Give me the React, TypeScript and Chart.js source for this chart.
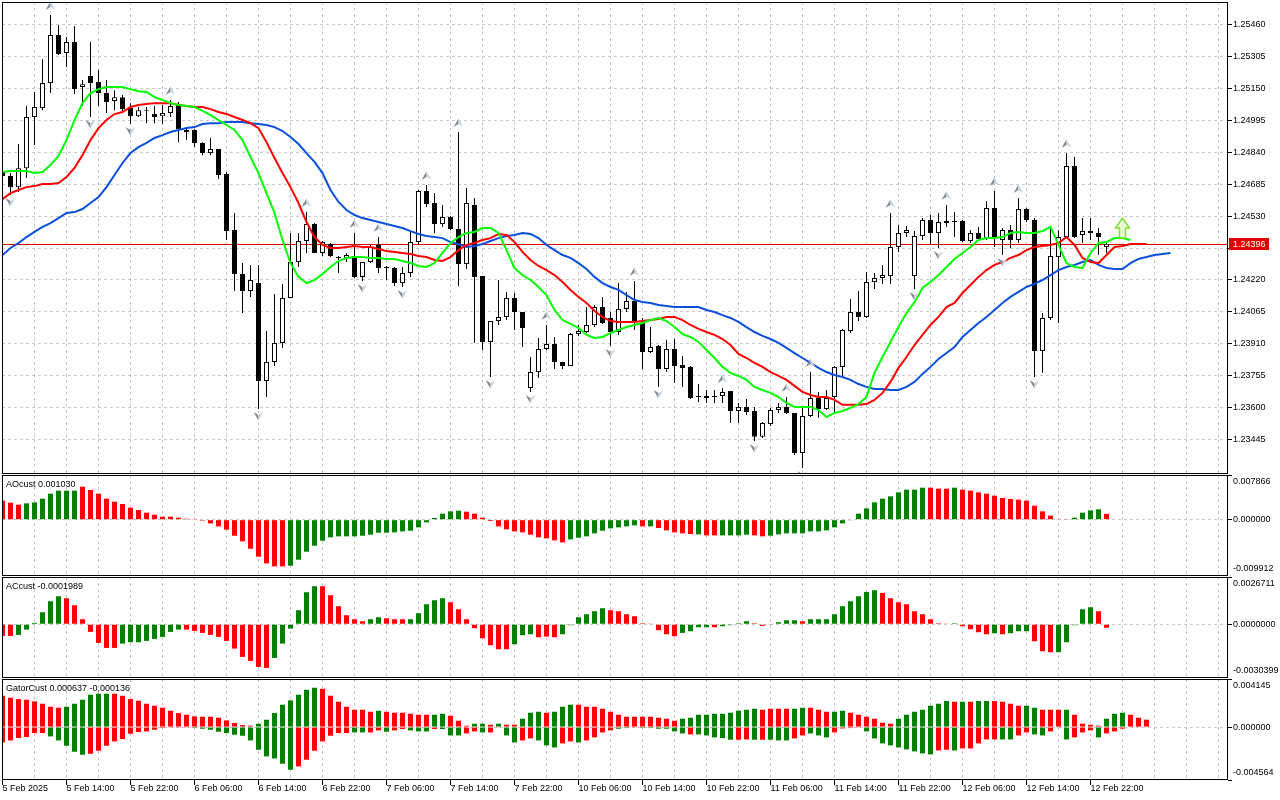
import { useEffect, useRef } from "react";
import { Chart, registerables } from "chart.js";

Chart.register(...registerables);

// ---------------- data ----------------
const xLabels = [
  "5 Feb 2025", "5 Feb 14:00", "5 Feb 22:00", "6 Feb 06:00", "6 Feb 14:00", "6 Feb 22:00",
  "7 Feb 06:00", "7 Feb 14:00", "7 Feb 22:00", "10 Feb 06:00", "10 Feb 14:00", "10 Feb 22:00",
  "11 Feb 06:00", "11 Feb 14:00", "11 Feb 22:00", "12 Feb 06:00", "12 Feb 14:00", "12 Feb 22:00",
];

const priceTicks = [1.23445, 1.236, 1.23755, 1.2391, 1.24065, 1.2422, 1.24375, 1.2453, 1.24685, 1.2484, 1.24995, 1.2515, 1.25305, 1.2546];
const priceRange = [1.2328, 1.25567];

const open = [
  1.24743, 1.24724, 1.24670, 1.24762, 1.25010, 1.25053, 1.25174, 1.25407, 1.25320, 1.25373,
  1.25155, 1.25208, 1.25179, 1.25126, 1.25087, 1.25106, 1.25053, 1.25014, 1.25043, 1.25024,
  1.25014, 1.25029, 1.25068, 1.24937, 1.24947, 1.24884, 1.24835, 1.24855, 1.24733, 1.24462,
  1.24249, 1.24167, 1.24205, 1.23731, 1.23823, 1.23915, 1.24133, 1.24307, 1.24409, 1.24491,
  1.24351, 1.24394, 1.24331, 1.24327, 1.24336, 1.24235, 1.24307, 1.24390, 1.24283, 1.24278,
  1.24205, 1.24254, 1.24404, 1.24651, 1.24593, 1.24491, 1.24525, 1.24467, 1.24297, 1.24583,
  1.24239, 1.23920, 1.24021, 1.24041, 1.24133, 1.24065, 1.23697, 1.23774, 1.23886, 1.23910,
  1.23823, 1.23803, 1.23958, 1.23968, 1.24002, 1.24089, 1.24036, 1.23968, 1.24080, 1.24118,
  1.24012, 1.23871, 1.23900, 1.23789, 1.23886, 1.23808, 1.23799, 1.23658, 1.23658, 1.23653,
  1.23658, 1.23682, 1.23585, 1.23605, 1.23585, 1.23460, 1.23522, 1.23590, 1.23605, 1.23576,
  1.23382, 1.23561, 1.23648, 1.23595, 1.23653, 1.23799, 1.23973, 1.24065, 1.24041, 1.24210,
  1.24230, 1.24239, 1.24380, 1.24448, 1.24239, 1.24433, 1.24511, 1.24448, 1.24506, 1.24501,
  1.24506, 1.24409, 1.24448, 1.24423, 1.24569, 1.24414, 1.24462, 1.24414, 1.24564, 1.24511,
  1.23876, 1.24036, 1.24331, 1.24428, 1.24772, 1.24438, 1.24457, 1.24448, 1.24380,
];
const high = [
  1.24753, 1.24738, 1.24879, 1.25063, 1.25131, 1.25290, 1.25504, 1.25455, 1.25397, 1.25450,
  1.25189, 1.25373, 1.25237, 1.25189, 1.25140, 1.25116, 1.25077, 1.25058, 1.25058, 1.25063,
  1.25068, 1.25092, 1.25082, 1.24956, 1.24951, 1.24888, 1.24908, 1.24855, 1.24743, 1.24545,
  1.24302, 1.24293, 1.24293, 1.23973, 1.24152, 1.24201, 1.24448, 1.24448, 1.24549, 1.24496,
  1.24409, 1.24399, 1.24336, 1.24351, 1.24448, 1.24307, 1.24390, 1.24428, 1.24288, 1.24283,
  1.24283, 1.24452, 1.24656, 1.24680, 1.24641, 1.24583, 1.24530, 1.24937, 1.24666, 1.24617,
  1.24239, 1.24021, 1.24220, 1.24162, 1.24157, 1.24065, 1.23847, 1.23939, 1.24002, 1.23944,
  1.23823, 1.23963, 1.24002, 1.24089, 1.24099, 1.24138, 1.24065, 1.24205, 1.24162, 1.24215,
  1.24036, 1.23992, 1.23905, 1.23929, 1.23934, 1.23852, 1.23803, 1.23716, 1.23687, 1.23687,
  1.23697, 1.23682, 1.23624, 1.23644, 1.23605, 1.23532, 1.23600, 1.23624, 1.23653, 1.23576,
  1.23600, 1.23774, 1.23677, 1.23687, 1.23803, 1.23983, 1.24128, 1.24167, 1.24259, 1.24254,
  1.24293, 1.24545, 1.24486, 1.24482, 1.24457, 1.24520, 1.24535, 1.24545, 1.24583, 1.24549,
  1.24511, 1.24462, 1.24477, 1.24603, 1.24651, 1.24472, 1.24486, 1.24617, 1.24569, 1.24520,
  1.24060, 1.24477, 1.24462, 1.24835, 1.24816, 1.24520, 1.24520, 1.24472, 1.24399,
];
const low = [
  1.24714, 1.24632, 1.24646, 1.24714, 1.24874, 1.25043, 1.25126, 1.25310, 1.25252, 1.25121,
  1.25063, 1.25010, 1.25063, 1.25029, 1.25043, 1.25029, 1.24976, 1.25010, 1.24980, 1.24980,
  1.24976, 1.25010, 1.24888, 1.24898, 1.24864, 1.24825, 1.24825, 1.24709, 1.24414, 1.24167,
  1.24060, 1.24138, 1.23595, 1.23653, 1.23803, 1.23891, 1.24133, 1.24283, 1.24351, 1.24351,
  1.24336, 1.24331, 1.24254, 1.24307, 1.24230, 1.24215, 1.24302, 1.24254, 1.24220, 1.24191,
  1.24186, 1.24235, 1.24390, 1.24574, 1.24448, 1.24477, 1.24462, 1.24191, 1.24273, 1.23915,
  1.23881, 1.23750, 1.24002, 1.24026, 1.23978, 1.23895, 1.23677, 1.23745, 1.23881, 1.23789,
  1.23789, 1.23803, 1.23949, 1.23963, 1.23992, 1.24007, 1.23900, 1.23954, 1.24065, 1.23978,
  1.23789, 1.23866, 1.23702, 1.23774, 1.23721, 1.23702, 1.23643, 1.23629, 1.23624, 1.23624,
  1.23624, 1.23527, 1.23527, 1.23566, 1.23440, 1.23455, 1.23513, 1.23576, 1.23571, 1.23372,
  1.23309, 1.23556, 1.23552, 1.23590, 1.23581, 1.23750, 1.23963, 1.24021, 1.24036, 1.24176,
  1.24201, 1.24201, 1.24356, 1.24428, 1.24176, 1.24414, 1.24394, 1.24375, 1.24477, 1.24428,
  1.24404, 1.24399, 1.24414, 1.24414, 1.24380, 1.24341, 1.24375, 1.24399, 1.24501, 1.23750,
  1.23770, 1.24026, 1.24012, 1.24423, 1.24423, 1.24399, 1.24414, 1.24341, 1.24351,
];
const close = [
  1.24724, 1.24670, 1.24762, 1.25010, 1.25058, 1.25174, 1.25407, 1.25315, 1.25373, 1.25145,
  1.25169, 1.25174, 1.25126, 1.25082, 1.25106, 1.25048, 1.25014, 1.25043, 1.25039, 1.25010,
  1.25029, 1.25063, 1.24951, 1.24947, 1.24884, 1.24835, 1.24855, 1.24729, 1.24457, 1.24249,
  1.24167, 1.24220, 1.23731, 1.23823, 1.23915, 1.24133, 1.24307, 1.24409, 1.24491, 1.24351,
  1.24404, 1.24336, 1.24327, 1.24341, 1.24235, 1.24307, 1.24380, 1.24278, 1.24278, 1.24205,
  1.24254, 1.24404, 1.24651, 1.24588, 1.24491, 1.24525, 1.24467, 1.24297, 1.24593, 1.24235,
  1.23920, 1.24021, 1.24041, 1.24133, 1.24065, 1.23987, 1.23774, 1.23886, 1.23910, 1.23823,
  1.23803, 1.23958, 1.23973, 1.24002, 1.24089, 1.24012, 1.23968, 1.24080, 1.24118, 1.24017,
  1.23871, 1.23895, 1.23789, 1.23886, 1.23803, 1.23794, 1.23648, 1.23653, 1.23648, 1.23658,
  1.23677, 1.23585, 1.23605, 1.23581, 1.23460, 1.23527, 1.23590, 1.23605, 1.23576, 1.23382,
  1.23561, 1.23648, 1.23595, 1.23648, 1.23799, 1.23978, 1.24065, 1.24041, 1.24210, 1.24230,
  1.24244, 1.24380, 1.24448, 1.24462, 1.24433, 1.24511, 1.24448, 1.24501, 1.24496, 1.24506,
  1.24409, 1.24448, 1.24419, 1.24569, 1.24423, 1.24462, 1.24414, 1.24564, 1.24511, 1.23876,
  1.24036, 1.24336, 1.24428, 1.24772, 1.24428, 1.24457, 1.24448, 1.24428, 1.24396,
];

// Alligator lines (already shifted forward, one value per bar slot)
const lips = [
  1.24743, 1.24748, 1.24748, 1.24748, 1.24738, 1.24743, 1.24777, 1.24821, 1.24898, 1.24995,
  1.25077, 1.25126, 1.25145, 1.25155, 1.25155, 1.25155, 1.25145, 1.25135, 1.25131, 1.25106,
  1.25092, 1.25077, 1.25068, 1.25063, 1.25058, 1.25039, 1.25019, 1.24995, 1.24971, 1.24947,
  1.24898, 1.24816, 1.24738, 1.24641, 1.24545, 1.24414, 1.24302, 1.24235, 1.24205, 1.24220,
  1.24249, 1.24283, 1.24312, 1.24327, 1.24331, 1.24331, 1.24327, 1.24327, 1.24322, 1.24322,
  1.24312, 1.24302, 1.24288, 1.24283, 1.24302, 1.24351, 1.24399, 1.24428, 1.24448, 1.24453,
  1.24472, 1.24472, 1.24448, 1.24365, 1.24278, 1.24244, 1.24220, 1.24186, 1.24147, 1.24075,
  1.24026, 1.24007, 1.23988, 1.23954, 1.23939, 1.23944, 1.23963, 1.23978, 1.23992, 1.24002,
  1.24012, 1.24026, 1.24036, 1.24021, 1.23992, 1.23958, 1.23944, 1.23920, 1.23881, 1.23842,
  1.23799, 1.23770, 1.23755, 1.23736, 1.23702, 1.23687, 1.23673, 1.23653, 1.23624, 1.23605,
  1.23605, 1.23605, 1.23590, 1.23556, 1.23576, 1.23585, 1.23600, 1.23619, 1.23653, 1.23770,
  1.23847, 1.23920, 1.23992, 1.24060, 1.24113, 1.24181, 1.24210, 1.24244, 1.24283, 1.24322,
  1.24351, 1.24380, 1.24414, 1.24423, 1.24423, 1.24428, 1.24448, 1.24453, 1.24448, 1.24448,
  1.24457, 1.24477, 1.24390, 1.24302, 1.24283, 1.24278, 1.24351, 1.24399, 1.24404, 1.24423,
  1.24423, 1.24414,
];
const teeth = [
  1.24612, 1.24641, 1.24656, 1.24670, 1.24675, 1.24685, 1.24685, 1.24690, 1.24719, 1.24763,
  1.24825, 1.24898, 1.24956, 1.24995, 1.25024, 1.25034, 1.25058, 1.25068, 1.25073, 1.25077,
  1.25077, 1.25077, 1.25068, 1.25063, 1.25058, 1.25058, 1.25048, 1.25034, 1.25024, 1.25010,
  1.24995, 1.24980, 1.24956, 1.24888, 1.24811, 1.24738, 1.24670, 1.24593, 1.24501, 1.24428,
  1.24390, 1.24375, 1.24375, 1.24380, 1.24385, 1.24380, 1.24380, 1.24370, 1.24360, 1.24356,
  1.24351, 1.24346, 1.24336, 1.24331, 1.24317, 1.24312, 1.24331, 1.24365, 1.24390, 1.24399,
  1.24414, 1.24423, 1.24443, 1.24438, 1.24404, 1.24356, 1.24317, 1.24288, 1.24268, 1.24244,
  1.24210, 1.24172, 1.24138, 1.24109, 1.24070, 1.24041, 1.24021, 1.24017, 1.24017, 1.24017,
  1.24021, 1.24026, 1.24031, 1.24041, 1.24041, 1.24026, 1.24002, 1.23983, 1.23968, 1.23954,
  1.23934, 1.23905, 1.23862, 1.23842, 1.23818, 1.23799, 1.23774, 1.23755, 1.23736, 1.23707,
  1.23678, 1.23663, 1.23653, 1.23653, 1.23639, 1.23615, 1.23615, 1.23615, 1.23619, 1.23639,
  1.23673, 1.23726, 1.23794, 1.23847, 1.23905, 1.23954, 1.24002, 1.24041, 1.24089, 1.24109,
  1.24157, 1.24196, 1.24235, 1.24268, 1.24293, 1.24307, 1.24327, 1.24341, 1.24365, 1.24380,
  1.24385, 1.24390, 1.24399, 1.24428, 1.24390, 1.24327, 1.24307, 1.24302, 1.24341, 1.24380,
  1.24385, 1.24394, 1.24394, 1.24394,
];
const jaw = [
  1.24341, 1.24375, 1.24399, 1.24428, 1.24453, 1.24477, 1.24496, 1.24520, 1.24545, 1.24549,
  1.24564, 1.24593, 1.24622, 1.24670, 1.24729, 1.24787, 1.24835, 1.24864, 1.24884, 1.24908,
  1.24922, 1.24937, 1.24947, 1.24956, 1.24961, 1.24976, 1.24980, 1.24980, 1.24985, 1.24985,
  1.24985, 1.24980, 1.24976, 1.24971, 1.24961, 1.24942, 1.24913, 1.24879, 1.24835, 1.24792,
  1.24738, 1.24656, 1.24598, 1.24559, 1.24535, 1.24520, 1.24511, 1.24501, 1.24491, 1.24482,
  1.24472, 1.24457, 1.24443, 1.24433, 1.24428, 1.24423, 1.24404, 1.24394, 1.24380, 1.24385,
  1.24394, 1.24409, 1.24423, 1.24433, 1.24438, 1.24448, 1.24443, 1.24423, 1.24390, 1.24365,
  1.24341, 1.24327, 1.24302, 1.24273, 1.24235, 1.24205, 1.24186, 1.24172, 1.24147, 1.24123,
  1.24113, 1.24109, 1.24099, 1.24094, 1.24089, 1.24089, 1.24089, 1.24089, 1.24075, 1.24065,
  1.24050, 1.24036, 1.24017, 1.23992, 1.23968, 1.23949, 1.23934, 1.23915, 1.23891, 1.23866,
  1.23842, 1.23818, 1.23794, 1.23774, 1.23760, 1.23750, 1.23736, 1.23716, 1.23702, 1.23692,
  1.23692, 1.23687, 1.23687, 1.23702, 1.23726, 1.23765, 1.23799, 1.23837, 1.23866, 1.23895,
  1.23944, 1.23978, 1.24012, 1.24041, 1.24075, 1.24109, 1.24138, 1.24162, 1.24186, 1.24201,
  1.24220, 1.24244, 1.24268, 1.24283, 1.24293, 1.24307, 1.24317, 1.24293, 1.24278, 1.24273,
  1.24273, 1.24302, 1.24322, 1.24331, 1.24341, 1.24346, 1.24351,
];

const fractalUp = [6, 21, 38, 44, 47, 53, 57, 68, 79, 90, 98, 101, 111, 118, 124, 127, 133];
const fractalDown = [1, 11, 16, 32, 45, 50, 61, 66, 76, 82, 94, 100, 114, 117, 125, 129];
const signalBars = [140];
const signalPrices = [1.24423];

const ao = [
  0.003346, 0.002994, 0.002642, 0.002876, 0.003052, 0.003698, 0.004579, 0.005107, 0.005107, 0.005107,
  0.005811, 0.005224, 0.004579, 0.003698, 0.003170, 0.002759, 0.002113, 0.001702, 0.001233, 0.000881,
  0.000528, 0.000528, 0.000352, 0.000176, 0.000059, -0.000176, -0.000646, -0.001174, -0.001761, -0.002818,
  -0.003816, -0.005107, -0.006516, -0.007690, -0.008218, -0.008218, -0.008101, -0.007044, -0.005635, -0.004579,
  -0.003698, -0.003111, -0.002935, -0.002935, -0.002935, -0.002818, -0.002642, -0.002289, -0.002289, -0.002231,
  -0.002055, -0.001937, -0.001350, -0.000470, 0.000294, 0.001057, 0.001468, 0.001585, 0.001409, 0.001057,
  0.000352, -0.000235, -0.001174, -0.001702, -0.002055, -0.002231, -0.002642, -0.003111, -0.003287, -0.003639,
  -0.003992, -0.003463, -0.003170, -0.002935, -0.002407, -0.001937, -0.001526, -0.001350, -0.001174, -0.000998,
  -0.001174, -0.001174, -0.001468, -0.001878, -0.002231, -0.002407, -0.002524, -0.002583, -0.002759, -0.002759,
  -0.002759, -0.002759, -0.002759, -0.002642, -0.002759, -0.002935, -0.002818, -0.002583, -0.002407, -0.002407,
  -0.002407, -0.002055, -0.002055, -0.001878, -0.001350, -0.000646, -0.000059, 0.001057, 0.001996, 0.003052,
  0.003698, 0.004109, 0.004813, 0.005283, 0.005283, 0.005635, 0.005635, 0.005459, 0.005459, 0.005635,
  0.005283, 0.005107, 0.004813, 0.004579, 0.004226, 0.003816, 0.003639, 0.003522, 0.003346, 0.002465,
  0.001468, 0.000704, 0.000117, 0.000059, 0.000352, 0.001233, 0.001644, 0.001820, 0.001030,
];
const aoColorRuns = [[3, "R"], [7, "G"], [26, "R"], [22, "G"], [13, "R"], [9, "G"], [1, "R"], [1, "G"], [5, "R"], [1, "G"], [2, "R"], [4, "G"], [2, "R"], [20, "G"], [3, "R"], [1, "G"], [14, "R"], [4, "G"], [1, "R"]];
const aoAxis = [-0.009912, 0, 0.007866];
const aoAxisLabels = ["-0.009912", "0.000000", "0.007866"];

const ac = [
  -0.000660, -0.000660, -0.000603, -0.000302, 0.000075, 0.000679, 0.001301, 0.001583, 0.001470, 0.001074,
  0.000283, -0.000434, -0.001056, -0.001338, -0.001338, -0.001093, -0.001018, -0.001018, -0.000943, -0.000829,
  -0.000716, -0.000434, -0.000302, -0.000302, -0.000377, -0.000490, -0.000603, -0.000716, -0.000943, -0.001376,
  -0.001847, -0.002074, -0.002413, -0.002469, -0.001904, -0.001093, -0.000245, 0.000792, 0.001810, 0.002149,
  0.002149, 0.001640, 0.001018, 0.000509, 0.000283, 0.000170, 0.000283, 0.000396, 0.000339, 0.000283,
  0.000283, 0.000283, 0.000622, 0.001131, 0.001357, 0.001470, 0.001244, 0.000848, 0.000283, -0.000226,
  -0.000792, -0.001188, -0.001414, -0.001414, -0.001131, -0.000622, -0.000566, -0.000735, -0.000697, -0.000735,
  -0.000566, -0.000057, 0.000396, 0.000566, 0.000735, 0.000905, 0.000792, 0.000735, 0.000566, 0.000452,
  0.000057, 0.000019, -0.000339, -0.000566, -0.000679, -0.000490, -0.000396, -0.000170, -0.000170, -0.000170,
  -0.000113, -0.000057, 0.000057, 0.000170, 0.000057, -0.000094, -0.000038, 0.000113, 0.000226, 0.000226,
  0.000170, 0.000283, 0.000283, 0.000283, 0.000566, 0.001018, 0.001301, 0.001583, 0.001828, 0.001923,
  0.001772, 0.001470, 0.001244, 0.001131, 0.000735, 0.000566, 0.000283, 0.000057, 0.000019, 0.000057,
  -0.000113, -0.000283, -0.000452, -0.000566, -0.000509, -0.000566, -0.000509, -0.000396, -0.000396, -0.000961,
  -0.001527, -0.001583, -0.001583, -0.001018, -0.000057, 0.000848, 0.000961, 0.000735, -0.0001989,
];
const acColorRuns = [[2, "R"], [6, "G"], [7, "R"], [8, "G"], [11, "R"], [6, "G"], [6, "R"], [2, "G"], [3, "R"], [5, "G"], [8, "R"], [3, "G"], [3, "R"], [6, "G"], [9, "R"], [4, "G"], [1, "R"], [4, "G"], [2, "R"], [4, "G"], [1, "R"], [9, "G"], [9, "R"], [1, "G"], [4, "R"], [1, "G"], [1, "R"], [3, "G"], [3, "R"], [5, "G"], [2, "R"]];
const acAxis = [-0.0030399, 0, 0.0026711];
const acAxisLabels = ["-0.0030399", "0.0000000", "0.0026711"];

const gatorUp = [
  0.002702, 0.002529, 0.002414, 0.002357, 0.002213, 0.002012, 0.001753, 0.001667, 0.001753, 0.002012,
  0.002357, 0.002788, 0.002874, 0.002874, 0.002874, 0.002702, 0.002414, 0.002270, 0.002012, 0.001839,
  0.001667, 0.001408, 0.001207, 0.001063, 0.000920, 0.000891, 0.000891, 0.000805, 0.000575, 0.000345,
  0.000172, 0.000115, 0.000287, 0.000632, 0.001207, 0.001926, 0.002299, 0.002788, 0.003219, 0.003391,
  0.003305, 0.002702, 0.002184, 0.001753, 0.001494, 0.001494, 0.001322, 0.001408, 0.001322, 0.001236,
  0.001236, 0.001150, 0.001063, 0.001063, 0.001063, 0.001150, 0.000977, 0.000546, 0.000115, 0.000287,
  0.000287, 0.000201, 0.000287, 0.000201, 0.000201, 0.000719, 0.001236, 0.001322, 0.001236, 0.001322,
  0.001753, 0.001926, 0.001926, 0.001753, 0.001753, 0.001581, 0.001322, 0.001063, 0.000891, 0.000891,
  0.000891, 0.000891, 0.000805, 0.000719, 0.000546, 0.000719, 0.000805, 0.001063, 0.001063, 0.001150,
  0.001150, 0.001236, 0.001408, 0.001494, 0.001581, 0.001494, 0.001581, 0.001581, 0.001581, 0.001581,
  0.001667, 0.001667, 0.001494, 0.001322, 0.001322, 0.001408, 0.001236, 0.001063, 0.000891, 0.000719,
  0.000374, 0.000287, 0.000719, 0.001063, 0.001322, 0.001494, 0.001839, 0.002012, 0.002242, 0.002184,
  0.002184, 0.002184, 0.002242, 0.002242, 0.002242, 0.002184, 0.002012, 0.001839, 0.001839, 0.001667,
  0.001494, 0.001494, 0.001494, 0.001494, 0.001063, 0.000287, 0.000201, 0.000115, 0.000719, 0.001150,
  0.001236, 0.001063, 0.000805, 0.000637,
];
const gatorUpColorRuns = [[8, "R"], [6, "G"], [18, "R"], [8, "G"], [7, "R"], [1, "G"], [6, "R"], [2, "G"], [3, "R"], [2, "G"], [1, "R"], [1, "G"], [2, "R"], [3, "G"], [1, "R"], [3, "G"], [13, "R"], [10, "G"], [4, "R"], [2, "G"], [3, "R"], [2, "G"], [6, "R"], [7, "G"], [1, "R"], [1, "G"], [1, "R"], [2, "G"], [4, "R"], [2, "G"], [3, "R"], [1, "G"], [4, "R"], [3, "G"], [3, "R"]];
const gatorDown = [
  -0.001322, -0.001150, -0.000948, -0.000862, -0.000517, -0.000517, -0.000805, -0.001150, -0.001609, -0.002127,
  -0.002385, -0.002299, -0.002041, -0.001609, -0.001236, -0.001035, -0.000575, -0.000431, -0.000374, -0.000230,
  -0.000086, -0.000057, -0.000057, -0.000057, -0.000086, -0.000144, -0.000230, -0.000402, -0.000517, -0.000661,
  -0.000747, -0.001150, -0.001954, -0.002529, -0.002702, -0.003161, -0.003679, -0.003391, -0.002817, -0.002041,
  -0.001236, -0.000747, -0.000517, -0.000517, -0.000460, -0.000460, -0.000460, -0.000287, -0.000402, -0.000287,
  -0.000172, -0.000287, -0.000374, -0.000374, -0.000172, -0.000172, -0.000719, -0.000719, -0.000546, -0.000374,
  -0.000460, -0.000460, -0.000057, -0.000719, -0.001322, -0.001150, -0.000977, -0.001150, -0.001581, -0.001753,
  -0.001408, -0.001236, -0.001322, -0.001150, -0.000891, -0.000460, -0.000287, -0.000144, -0.000086, -0.000029,
  -0.000086, -0.000086, -0.000144, -0.000144, -0.000374, -0.000546, -0.000632, -0.000632, -0.000719, -0.000891,
  -0.000948, -0.001092, -0.001092, -0.001063, -0.001092, -0.001092, -0.001092, -0.001150, -0.001150, -0.000977,
  -0.000719, -0.000546, -0.000719, -0.000891, -0.000460, -0.000115, -0.000086, -0.000029, -0.000374, -0.000977,
  -0.001408, -0.001581, -0.001753, -0.001926, -0.002098, -0.002270, -0.002357, -0.002012, -0.001954, -0.002012,
  -0.001839, -0.001839, -0.001408, -0.001063, -0.001063, -0.001063, -0.001063, -0.000719, -0.000460, -0.000632,
  -0.000719, -0.000374, -0.000029, -0.001063, -0.000891, -0.000460, -0.000287, -0.000891, -0.000546, -0.000374,
  -0.000136,
];
const gatorDownColorRuns = [[6, "R"], [5, "G"], [13, "R"], [13, "G"], [7, "R"], [2, "G"], [2, "R"], [1, "G"], [2, "R"], [3, "G"], [1, "R"], [3, "G"], [2, "R"], [1, "G"], [2, "R"], [2, "G"], [2, "R"], [3, "G"], [2, "R"], [1, "G"], [4, "R"], [2, "G"], [1, "R"], [6, "G"], [1, "R"], [5, "G"], [2, "R"], [1, "G"], [1, "R"], [3, "G"], [2, "R"], [3, "G"], [4, "R"], [9, "G"], [2, "R"], [1, "G"], [5, "R"], [2, "G"], [2, "R"], [2, "G"], [1, "R"], [2, "G"], [3, "R"], [1, "G"], [3, "R"]];
const gatorAxis = [-0.004564, 0, 0.004145];
const gatorAxisLabels = ["-0.004564", "0.000000", "0.004145"];

// ---------------- styling / helpers ----------------
const FONT = "'Liberation Sans', Arial, Helvetica, sans-serif";
const GRID = "#c8c8c8";
const UPC = "#008000";
const DNC = "#ff0000";
const NONE = "rgba(0,0,0,0)";
const X_MIN = -0.0625;
const X_MAX = 153.1875;
const AXIS_W = 52;

const runs = (r: any[]) => r.flatMap(([n, c]: any) => Array(n).fill(c === "G" ? UPC : DNC));
const pts = (arr: number[]) => arr.map((v, i) => ({ x: i, y: v }));

const gridBars: number[] = [];
for (let b = 0; b <= 152; b += 4) gridBars.push(b);

function xScale(showLabels: boolean): any {
  return {
    type: "linear",
    position: "bottom",
    min: X_MIN,
    max: X_MAX,
    bounds: "data",
    offset: false,
    afterBuildTicks: (s: any) => {
      s.ticks = gridBars.map((v) => ({ value: v }));
    },
    afterFit: (s: any) => {
      s.height = showLabels ? 20 : 0;
      s.paddingLeft = 0;
      s.paddingRight = 0;
      s.paddingTop = 0;
      s.paddingBottom = 0;
    },
    grid: {
      offset: false,
      drawOnChartArea: true,
      drawTicks: showLabels,
      tickLength: 5,
      lineWidth: 1,
      color: (c: any) => (c.tick && c.tick.value === 0 ? NONE : GRID),
      tickColor: (c: any) => (c.tick && c.tick.value % 8 === 0 && xLabels[c.tick.value / 8] ? "#000" : NONE),
    },
    border: { display: false, dash: [3, 3] },
    ticks: {
      display: showLabels,
      autoSkip: false,
      maxRotation: 0,
      minRotation: 0,
      align: "start",
      padding: -2,
      color: "#000",
      font: { family: FONT, size: 9 },
      callback: (v: number) => (v % 8 === 0 && xLabels[v / 8]) || "",
    },
  };
}

function panelY(range: number[], labels: string[]): any {
  return {
    type: "linear",
    position: "right",
    min: range[0],
    max: range[2],
    bounds: "data",
    afterBuildTicks: (s: any) => {
      s.ticks = range.map((v) => ({ value: v }));
    },
    afterFit: (s: any) => {
      s.width = AXIS_W;
      s.paddingTop = 0;
      s.paddingBottom = 0;
    },
    grid: {
      drawOnChartArea: true,
      drawTicks: true,
      tickLength: 4,
      tickColor: "#000",
      lineWidth: 1,
      color: (c: any) => (c.tick && c.tick.value === 0 ? GRID : NONE),
    },
    border: { display: false, dash: [3, 3] },
    ticks: {
      padding: 1,
      color: "#000",
      font: { family: FONT, size: 9, lineHeight: 14 / 9 },
      callback: (_v: number, idx: number) => (idx === 2 ? ["", labels[2]] : idx === 0 ? [labels[0], ""] : labels[1]),
    },
  };
}

const framePlugin = {
  id: "frame",
  afterDraw(chart: any) {
    const { ctx, chartArea: a } = chart;
    ctx.save();
    ctx.strokeStyle = "#000";
    ctx.lineWidth = 1;
    ctx.strokeRect(a.left + 0.5, a.top + 0.5, a.right - a.left - 1, a.bottom - a.top - 1);
    ctx.restore();
  },
};

const titlePlugin = {
  id: "panelTitle",
  afterDraw(chart: any, _args: any, opts: any) {
    if (!opts || !opts.text) return;
    const { ctx, chartArea: a } = chart;
    ctx.save();
    ctx.fillStyle = "#000";
    ctx.font = `9px ${FONT}`;
    ctx.textBaseline = "middle";
    ctx.textAlign = "left";
    ctx.fillText(opts.text, a.left + 4, a.top + 9.5);
    ctx.restore();
  },
};

function drawFractal(ctx: any, px: number, py: number, up: boolean) {
  const s = up ? 1 : -1;
  const tipY = py - 4.5 * s;
  const wingY = py + 4 * s;
  const notchY = py + 1 * s;
  ctx.beginPath();
  ctx.moveTo(px, tipY);
  ctx.lineTo(px - 5, wingY);
  ctx.lineTo(px, notchY);
  ctx.closePath();
  ctx.fillStyle = "#858b94";
  ctx.fill();
  ctx.beginPath();
  ctx.moveTo(px, tipY);
  ctx.lineTo(px, notchY);
  ctx.lineTo(px + 5, wingY);
  ctx.closePath();
  ctx.fillStyle = "#cfd4db";
  ctx.fill();
}

const markersPlugin = {
  id: "markers",
  beforeDatasetsDraw(chart: any) {
    const { ctx, chartArea: a, scales } = chart;
    const price = close[close.length - 1];
    const y = Math.round(scales.y.getPixelForValue(price)) + 0.5;
    ctx.save();
    ctx.strokeStyle = "#e00000";
    ctx.lineWidth = 1;
    ctx.beginPath();
    ctx.moveTo(a.left, y);
    ctx.lineTo(a.right, y);
    ctx.stroke();
    ctx.restore();
  },
  afterDatasetsDraw(chart: any) {
    const { ctx, chartArea: a, scales } = chart;
    const { x, y } = scales;
    ctx.save();
    ctx.beginPath();
    ctx.rect(a.left, a.top, a.right - a.left, a.bottom - a.top);
    ctx.clip();
    fractalUp.forEach((i) => drawFractal(ctx, x.getPixelForValue(i), y.getPixelForValue(high[i]) - 9, true));
    fractalDown.forEach((i) => drawFractal(ctx, x.getPixelForValue(i), y.getPixelForValue(low[i]) + 7, false));
    signalBars.forEach((b, k) => {
      const px = x.getPixelForValue(b);
      const by = y.getPixelForValue(signalPrices[k]);
      ctx.beginPath();
      ctx.moveTo(px - 3, by);
      ctx.lineTo(px - 3, by - 10);
      ctx.lineTo(px - 7, by - 10);
      ctx.lineTo(px, by - 20);
      ctx.lineTo(px + 7, by - 10);
      ctx.lineTo(px + 3, by - 10);
      ctx.lineTo(px + 3, by);
      ctx.closePath();
      ctx.fillStyle = "rgba(225,255,190,0.6)";
      ctx.fill();
      ctx.strokeStyle = "#7fdc3a";
      ctx.lineWidth = 1.5;
      ctx.stroke();
    });
    ctx.restore();
  },
  afterDraw(chart: any) {
    const { ctx, chartArea: a, scales } = chart;
    const price = close[close.length - 1];
    const y = Math.round(scales.y.getPixelForValue(price));
    ctx.save();
    ctx.fillStyle = "#e00000";
    ctx.fillRect(a.right + 1, y - 6, 40, 12);
    ctx.fillStyle = "#fff";
    ctx.font = `9px ${FONT}`;
    ctx.textBaseline = "middle";
    ctx.textAlign = "left";
    ctx.fillText(price.toFixed(5), a.right + 5, y + 0.5);
    ctx.restore();
  },
};

const baseOptions = (padding: any) => ({
  animation: false,
  responsive: false,
  maintainAspectRatio: false,
  devicePixelRatio: 1,
  events: [],
  layout: { padding },
});

function mainConfig(): any {
  const line = (data: number[], color: string, order: number) => ({
    type: "line",
    data: pts(data),
    borderColor: color,
    borderWidth: 2,
    pointRadius: 0,
    tension: 0,
    fill: false,
    order,
  });
  return {
    type: "bar",
    data: {
      datasets: [
        line(lips, "#00ff00", 1),
        line(teeth, "#ff0000", 2),
        line(jaw, "#0a50dc", 3),
        {
          type: "bar",
          data: open.map((o, i) => ({ x: i, y: [o, close[i]] })),
          backgroundColor: open.map((o, i) => (close[i] >= o ? "#ffffff" : "#000000")),
          borderColor: "#000",
          borderWidth: 1,
          borderSkipped: false,
          barThickness: 5,
          maxBarThickness: 5,
          grouped: false,
          inflateAmount: 0,
          order: 4,
        },
        {
          type: "bar",
          data: low.map((l, i) => ({ x: i, y: [l, high[i]] })),
          backgroundColor: "#000",
          borderWidth: 0,
          barThickness: 1,
          maxBarThickness: 1,
          grouped: false,
          inflateAmount: 0,
          order: 5,
        },
      ],
    },
    options: {
      ...baseOptions({ left: 2, top: 2, right: 0, bottom: 1 }),
      plugins: { legend: { display: false }, tooltip: { enabled: false } },
      scales: {
        x: xScale(false),
        y: {
          type: "linear",
          position: "right",
          min: priceRange[0],
          max: priceRange[1],
          bounds: "data",
          afterBuildTicks: (s: any) => {
            s.ticks = priceTicks.map((v) => ({ value: v }));
          },
          afterFit: (s: any) => {
            s.width = AXIS_W;
            s.paddingTop = 0;
            s.paddingBottom = 0;
          },
          grid: { color: GRID, tickColor: "#000", tickLength: 4, lineWidth: 1 },
          border: { display: false, dash: [3, 3] },
          ticks: { padding: 1, color: "#000", font: { family: FONT, size: 9 }, callback: (v: number) => Number(v).toFixed(5) },
        },
      },
    },
    plugins: [markersPlugin, framePlugin],
  };
}

function panelConfig(series: any[], range: number[], labels: string[], title: string, showX: boolean): any {
  return {
    type: "bar",
    data: {
      datasets: series.map((s) => ({
        data: pts(s.values),
        backgroundColor: runs(s.colors),
        borderWidth: 0,
        barThickness: 5,
        maxBarThickness: 5,
        grouped: false,
        inflateAmount: 0,
      })),
    },
    options: {
      ...baseOptions({ left: 2, top: 0, right: 0, bottom: 0 }),
      plugins: { legend: { display: false }, tooltip: { enabled: false }, panelTitle: { text: title } },
      scales: { x: xScale(showX), y: panelY(range, labels) },
    },
    plugins: [framePlugin, titlePlugin],
  };
}

export default function App() {
  const mainRef = useRef<HTMLCanvasElement>(null);
  const aoRef = useRef<HTMLCanvasElement>(null);
  const acRef = useRef<HTMLCanvasElement>(null);
  const gatorRef = useRef<HTMLCanvasElement>(null);

  useEffect(() => {
    document.body.style.margin = "0";
    Chart.defaults.font.family = FONT;
    Chart.defaults.font.size = 9;
    const charts = [
      new Chart(mainRef.current as any, mainConfig()),
      new Chart(
        aoRef.current as any,
        panelConfig([{ values: ao, colors: aoColorRuns }], aoAxis, aoAxisLabels, `AOcust ${ao[ao.length - 1].toFixed(6)}`, false)
      ),
      new Chart(
        acRef.current as any,
        panelConfig([{ values: ac, colors: acColorRuns }], acAxis, acAxisLabels, `ACcust ${ac[ac.length - 1].toFixed(7)}`, false)
      ),
      new Chart(
        gatorRef.current as any,
        panelConfig(
          [
            { values: gatorUp, colors: gatorUpColorRuns },
            { values: gatorDown, colors: gatorDownColorRuns },
          ],
          gatorAxis,
          gatorAxisLabels,
          `GatorCust ${gatorUp[gatorUp.length - 1].toFixed(6)} ${gatorDown[gatorDown.length - 1].toFixed(6)}`,
          true
        )
      ),
    ];
    return () => charts.forEach((c) => c.destroy());
  }, []);

  const cs = (top: number, h: number): any => ({ position: "absolute", left: 0, top, width: 1280, height: h, display: "block" });
  return (
    <div style={{ position: "fixed", left: 0, top: 0, width: 1280, height: 800, background: "#ffffff", overflow: "hidden" }}>
      <canvas ref={mainRef} width={1280} height={475} style={cs(0, 475)} />
      <canvas ref={aoRef} width={1280} height={101} style={cs(475, 101)} />
      <canvas ref={acRef} width={1280} height={101} style={cs(577, 101)} />
      <canvas ref={gatorRef} width={1280} height={121} style={cs(679, 121)} />
    </div>
  );
}
